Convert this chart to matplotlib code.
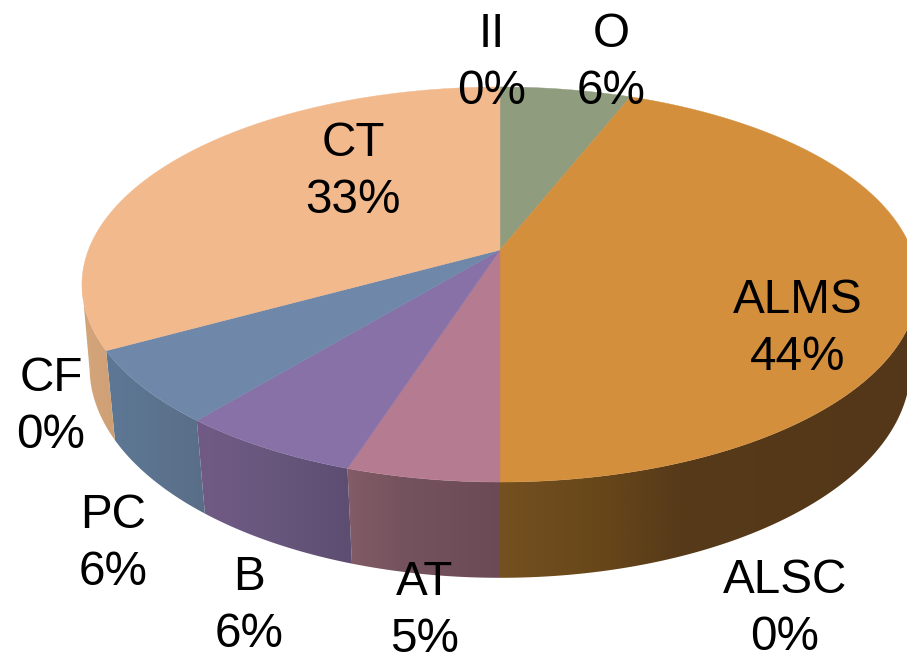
import numpy as np
from matplotlib import pyplot as plt
from matplotlib.colors import to_rgb
from matplotlib.patches import Polygon

# slices clockwise from 12 o'clock
names = ["O", "ALMS", "ALSC", "AT", "B", "PC", "CF", "CT", "II"]
values = [6, 44, 0, 5, 6, 6, 0, 33, 0]

top_colors = ["#8f9c7e", "#d48f3d", None, "#b57b90", "#8771a6", "#6f88aa", None, "#f2b98d", None]
# side shading, colour stops by x in pixels
side_shades = {
    "ALMS": ([500, 600, 680, 907], ["#755021", "#674719", "#573a19", "#533718"]),
    "AT": ([348, 400, 500], ["#825c66", "#75535e", "#6b4a56"]),
    "B": ([197, 280, 352], ["#715b86", "#67567c", "#5d4d71"]),
    "PC": ([106, 205], ["#5d7895", "#5a6e88"]),
    "CT": ([80, 120], ["#d4a67c", "#cf9f73"]),
}
# the side wall stops at the silhouette of the disc
side_stop = {"ALMS": np.radians(100), "CT": np.radians(260)}

label_xy = {
    "O": (611, 63), "II": (492, 63), "CT": (353, 172), "ALMS": (798, 329),
    "CF": (51, 407), "PC": (113, 544), "B": (249, 606), "AT": (425, 611),
    "ALSC": (785, 609),
}

plt.rcParams["font.family"] = ["Liberation Sans", "DejaVu Sans"]

fig = plt.figure(figsize=(9.07, 6.56), dpi=100)
ax = fig.add_axes([0, 0, 1, 1])


def rim(t, cy, a, k, c):
    # perspective view of a circle, t is the clockwise angle from the top
    u, v = np.sin(t), np.cos(t)
    w = 1 + c * v
    return np.column_stack([500 + k * u / w, cy - a * v / w])


def upper(t):
    return rim(t, 250, 191.5, 411.6, 0.1747)


def lower(t):
    return rim(t, 333, 205, 405, 0.1626)


ends = np.cumsum(values) / 100 * 2 * np.pi
starts = ends - np.array(values) / 100 * 2 * np.pi

# sides first, top faces cover whatever sits behind them
grad_x = np.arange(0, 908)
for name, t0, t1 in zip(names, starts, ends):
    if name not in side_shades:
        continue
    if name == "ALMS":
        t0 = side_stop[name]
    if name == "CT":
        t1 = side_stop[name]
    t = np.linspace(t0, t1, 200)
    outline = np.vstack([upper(t), lower(t)[::-1]])
    stops, cols = side_shades[name]
    cols = np.array([to_rgb(col) for col in cols])
    grad = np.stack([np.interp(grad_x, stops, cols[:, i]) for i in range(3)], axis=-1)
    im = ax.imshow(grad[np.newaxis], extent=(0, 907, 656, 0), aspect="auto", zorder=1)
    patch = Polygon(outline, closed=True, facecolor="none", edgecolor="none", transform=ax.transData)
    ax.add_patch(patch)
    im.set_clip_path(patch)

for col, t0, t1 in zip(top_colors, starts, ends):
    if col is None:
        continue
    t = np.linspace(t0, t1, 200)
    pts = np.vstack([[500, 250], upper(t)])
    ax.add_patch(Polygon(pts, closed=True, facecolor=col, edgecolor=col, lw=0.3, zorder=2))

for name, val in zip(names, values):
    x, y = label_xy[name]
    ax.text(x, y, f"{name}\n{val}%", ha="center", va="center", fontsize=34.3,
            color="black", linespacing=1.32, zorder=3)

ax.set_xlim(0, 907)
ax.set_ylim(656, 0)
ax.axis("off")

plt.savefig("out.png", dpi=100)
